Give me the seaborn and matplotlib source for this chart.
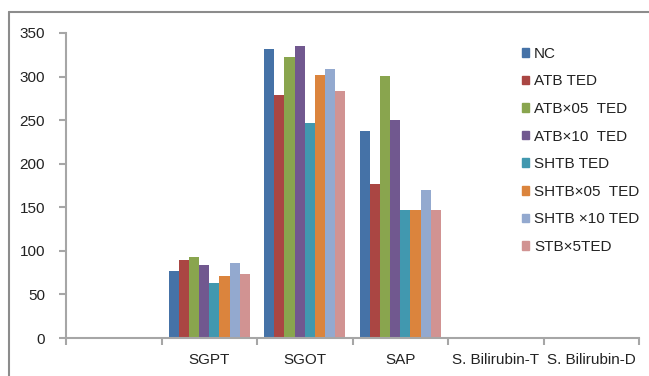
import matplotlib
matplotlib.use("Agg")
import matplotlib.pyplot as plt
from matplotlib.lines import Line2D
from matplotlib.ticker import FixedLocator, NullFormatter
import seaborn as sns
import pandas as pd

# Liver / biochemical parameters per treatment group
parameters = ["SGPT", "SGOT", "SAP", "S. Bilirubin-T", "S. Bilirubin-D"]
groups = ["NC", "ATB TED", "ATB×05  TED", "ATB×10  TED",
          "SHTB TED", "SHTB×05  TED", "SHTB ×10 TED", "STB×5TED"]

nc        = [77, 332, 237, 1.6, 0.4]
atb       = [89, 279, 177, 1.6, 0.4]
atb_05    = [93, 322, 301, 1.6, 0.4]
atb_10    = [84, 335, 250, 1.6, 1.2]
shtb      = [63, 247, 147, 0.6, 0.3]
shtb_05   = [71, 302, 147, 0.6, 0.3]
shtb_10   = [86, 309, 170, 0.6, 0.3]
stb_5     = [73, 284, 147, 0.6, 0.3]

series = [nc, atb, atb_05, atb_10, shtb, shtb_05, shtb_10, stb_5]
palette = ["#4572A7", "#AA4643", "#89A54E", "#71588F",
           "#4198AF", "#DB843D", "#93A9CF", "#D19392"]

rows = []
for g, vals in zip(groups, series):
    for p, v in zip(parameters, vals):
        rows.append({"parameter": p, "group": g, "value": v})
df = pd.DataFrame(rows)

sns.set_theme(style="white")
plt.rcParams["font.family"] = ["Liberation Sans", "DejaVu Sans"]

fig = plt.figure(figsize=(6.49, 3.76), dpi=100)
W, H = 649, 376
ax = fig.add_axes([66 / W, 1 - 338 / H, (639 - 66) / W, (338 - 33) / H])

sns.barplot(data=df, x="parameter", y="value", hue="group",
            order=parameters, hue_order=groups, palette=palette,
            width=0.85, saturation=1, errorbar=None, ax=ax, legend=False,
            linewidth=0, edgecolor="none")

# leave an empty slot before the first parameter
ax.set_xlim(-1.5, len(parameters) - 0.5)
ax.set_ylim(0, 350)
ax.set_yticks(range(0, 351, 50))
ax.set_xlabel("")
ax.set_ylabel("")

axis_grey = "#A6A6A6"
text_col = "#222222"
for s in ("top", "right"):
    ax.spines[s].set_visible(False)
for s in ("left", "bottom"):
    ax.spines[s].set_color(axis_grey)
    ax.spines[s].set_linewidth(1.5)

ax.set_xticks(range(len(parameters)))
ax.set_xticklabels(parameters)
ax.xaxis.set_minor_locator(FixedLocator([i - 0.5 for i in range(-1, len(parameters) + 1)]))
ax.xaxis.set_minor_formatter(NullFormatter())
ax.tick_params(axis="x", which="major", length=0, pad=11, labelsize=11, labelcolor=text_col)
ax.tick_params(axis="x", which="minor", length=5, width=1.5, color=axis_grey, direction="out")
ax.tick_params(axis="y", length=5, width=1.5, color=axis_grey, direction="out",
               labelsize=11, labelcolor=text_col, pad=10)
ax.tick_params(bottom=True, left=True, which="both")

handles = [plt.Rectangle((0, 0), 1, 1, color=c) for c in palette]
fig.legend(handles, groups, loc="upper left", bbox_to_anchor=(508 / W, 1 - 33 / H),
           frameon=False, fontsize=11, handlelength=0.5, handleheight=0.5,
           handletextpad=0.3, labelspacing=0.89, labelcolor=text_col)

# chart area border
border = "#8C8C8C"
fig.add_artist(Line2D([9 / W, 9 / W], [1 - 12 / H, 0], color=border, lw=1.5,
                      transform=fig.transFigure))
fig.add_artist(Line2D([9 / W, 1], [1 - 12 / H, 1 - 12 / H], color=border, lw=1.5,
                      transform=fig.transFigure))

fig.savefig("out.png", dpi=100)
